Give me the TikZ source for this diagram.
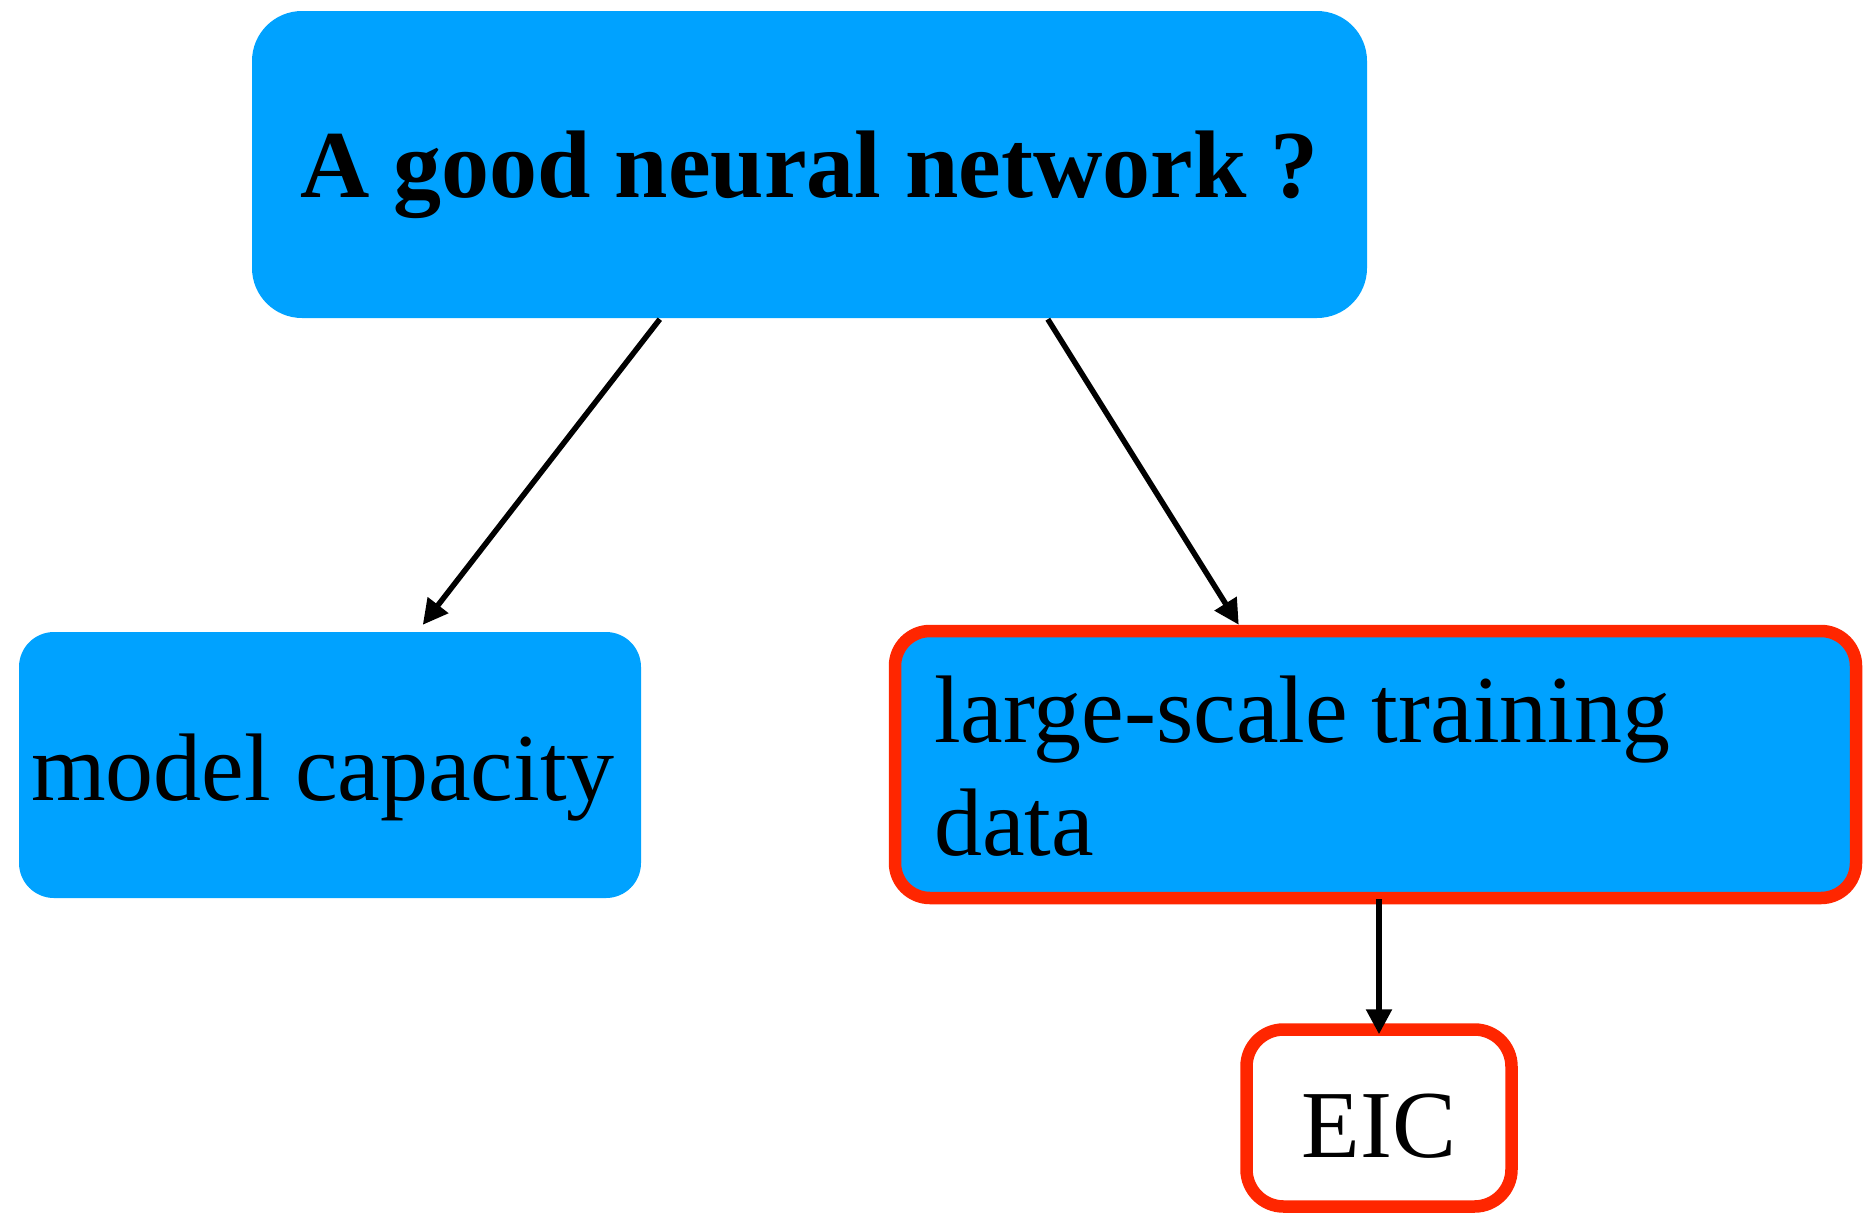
\documentclass[tikz,border=0pt]{standalone}
\usepackage{fontspec}
\setmainfont{Liberation Serif}
\usetikzlibrary{arrows.meta,calc}
\definecolor{boxblue}{RGB}{0,162,255}
\definecolor{boxred}{RGB}{255,38,0}
% align=left fixes the interword space at 1/3 em; go back to the font's own space
\newcommand\fontspaces{\spaceskip=0pt\xspaceskip=0pt\relax}
\tikzset{
  bigtext/.style={font=\fontsize{96}{113}\selectfont},
  bluebox/.style={fill=boxblue, draw=none, inner sep=0pt, bigtext},
  redframe/.style={draw=boxred, line width=12.5pt},
  link/.style={line width=5.5pt, -{Triangle[length=25pt,width=25pt]}}
}
\begin{document}
\begin{tikzpicture}[x=1pt,y=-1pt]
  \useasboundingbox (0,0) rectangle (1864,1216);

  % question box
  \node[bluebox, rounded corners=50pt, minimum width=1115pt, minimum height=307pt,
        text height=85pt, text depth=20pt, font=\fontsize{96}{113}\selectfont\bfseries]
    (question) at (809.5,164.5) {A good neural network ?};

  % the two ingredients
  \node[bluebox, rounded corners=35pt, minimum width=622pt, minimum height=266pt,
        text width=598pt, align=left, text height=91pt, text depth=21pt]
    (capacity) at (330,765) {\fontspaces model capacity};

  \node[bluebox, redframe, rounded corners=35pt, minimum width=961pt, minimum height=267pt,
        text width=883pt, align=left, text height=85pt, text depth=130pt]
    (data) at (1375.5,764.5) {\fontspaces large-scale training\\data};

  % example dataset
  \node[redframe, fill=white, rounded corners=37pt, minimum width=265pt, minimum height=177pt,
        inner sep=0pt, bigtext, text height=99pt, text depth=21pt]
    (eic) at (1379,1118) {EIC};

  % connectors
  \draw[link] ($(question.south west)+(408,1)$) -- ($(capacity.north west)+(404,-7)$);
  \draw[link] ($(question.south west)+(796,1)$) -- ($(data.north west)+(350,0)$);
  \draw[link] ($(data.south)+(3.5,-5)$) -- ($(eic.north)+(0,11)$);
\end{tikzpicture}
\end{document}
